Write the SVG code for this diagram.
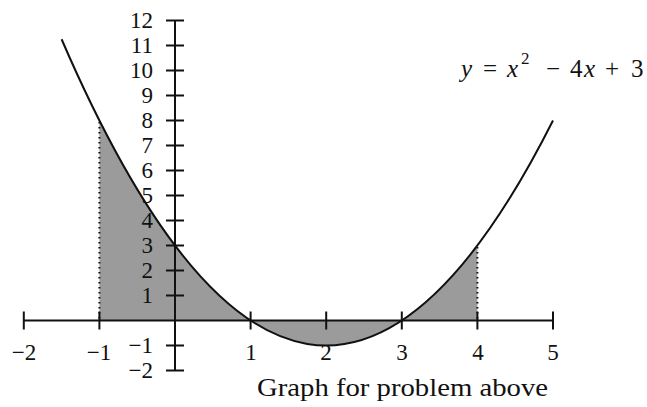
<svg xmlns="http://www.w3.org/2000/svg" width="647" height="407" viewBox="0 0 647 407">
<style>
.ax{stroke:#111;stroke-width:2;fill:none}
.tk{stroke:#111;stroke-width:2}
.lbl{font-family:"Liberation Serif",serif;font-size:23px;fill:#111}
.xl{text-anchor:middle}
.yl{text-anchor:end}
.dot{stroke:#111;stroke-width:2;stroke-dasharray:1.5 3.5;fill:none}
.eq{font-family:"Liberation Serif",serif;font-size:25px;fill:#111}
.it{font-style:italic}
</style>
<rect width="647" height="407" fill="#fff"/>
<g id="shade">
<path d="M99.4,320.5 L99.4,120.5 Q288.4,495.5 477.4,245.5 L477.4,320.5 Z" fill="#9b9b9b"/>
</g>
<g id="dotted">
<line class="dot" x1="99.4" y1="122" x2="99.4" y2="320"/>
<line class="dot" x1="477.4" y1="247" x2="477.4" y2="320"/>
</g>
<g id="axes">
<line class="ax" x1="23.8" y1="320.5" x2="553" y2="320.5"/>
<line class="ax" x1="175" y1="20.5" x2="175" y2="370.5"/>
<g class="tk">
<line x1="23.8" y1="311.5" x2="23.8" y2="329.5"/>
<line x1="99.4" y1="311.5" x2="99.4" y2="329.5"/>
<line x1="250.6" y1="311.5" x2="250.6" y2="329.5"/>
<line x1="326.2" y1="311.5" x2="326.2" y2="329.5"/>
<line x1="401.8" y1="311.5" x2="401.8" y2="329.5"/>
<line x1="477.4" y1="311.5" x2="477.4" y2="329.5"/>
<line x1="553" y1="311.5" x2="553" y2="329.5"/>
<line x1="166" y1="20.5" x2="184" y2="20.5"/>
<line x1="166" y1="45.5" x2="184" y2="45.5"/>
<line x1="166" y1="70.5" x2="184" y2="70.5"/>
<line x1="166" y1="95.5" x2="184" y2="95.5"/>
<line x1="166" y1="120.5" x2="184" y2="120.5"/>
<line x1="166" y1="145.5" x2="184" y2="145.5"/>
<line x1="166" y1="170.5" x2="184" y2="170.5"/>
<line x1="166" y1="195.5" x2="184" y2="195.5"/>
<line x1="166" y1="220.5" x2="184" y2="220.5"/>
<line x1="166" y1="245.5" x2="184" y2="245.5"/>
<line x1="166" y1="270.5" x2="184" y2="270.5"/>
<line x1="166" y1="295.5" x2="184" y2="295.5"/>
<line x1="166" y1="345.5" x2="184" y2="345.5"/>
<line x1="166" y1="370.5" x2="184" y2="370.5"/>
</g>
</g>
<g id="curve">
<path class="ax" d="M61.6,39.25 Q307.3,608 553,120.5"/>
</g>
<g id="xlabels" class="lbl xl">
<text x="24" y="360">−2</text>
<text x="99" y="360">−1</text>
<text x="251" y="360">1</text>
<text x="326" y="360">2</text>
<text x="402" y="360">3</text>
<text x="478" y="360">4</text>
<text x="553" y="360">5</text>
</g>
<g id="ylabels" class="lbl yl">
<text x="153" y="28">12</text>
<text x="153" y="53">11</text>
<text x="153" y="78">10</text>
<text x="153" y="103">9</text>
<text x="153" y="128">8</text>
<text x="153" y="153">7</text>
<text x="153" y="178">6</text>
<text x="153" y="203">5</text>
<text x="153" y="228">4</text>
<text x="153" y="253">3</text>
<text x="153" y="278">2</text>
<text x="153" y="303">1</text>
<text x="153" y="353">−1</text>
<text x="153" y="378">−2</text>
</g>
<g id="equation" class="eq">
<text x="461" y="77" class="it">y</text>
<text x="483" y="77">=</text>
<text x="507" y="77" class="it">x</text>
<text x="521" y="64" font-size="17">2</text>
<text x="546" y="77">−</text>
<text x="570" y="77">4</text>
<text x="584" y="77" class="it">x</text>
<text x="605" y="77">+</text>
<text x="631" y="77">3</text>
</g>
<g id="caption">
<text x="257" y="396" textLength="291" lengthAdjust="spacingAndGlyphs" style="font-family:'Liberation Serif',serif;font-size:26px;fill:#111">Graph for problem above</text>
</g>
</svg>
